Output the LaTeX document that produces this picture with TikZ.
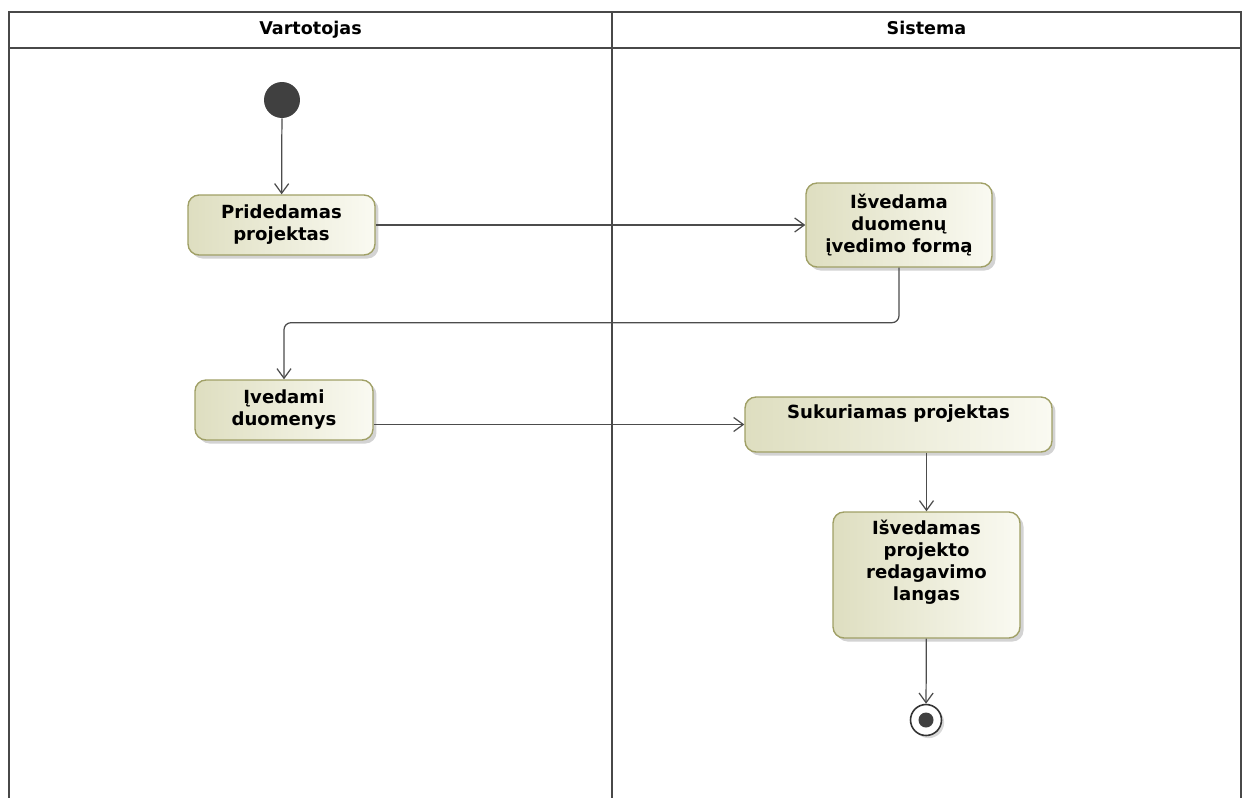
\documentclass[tikz,border=0pt]{standalone}
\usepackage{fontspec}
\setmainfont{DejaVu Sans}
\usetikzlibrary{arrows.meta, positioning, shadows}
\definecolor{actborder}{RGB}{160,160,102}
\definecolor{actleft}{RGB}{222,222,192}
\definecolor{actright}{RGB}{250,250,242}
\definecolor{lanegray}{RGB}{72,72,72}
\definecolor{dotgray}{RGB}{64,64,64}

\begin{document}
\begin{tikzpicture}[x=0.02cm, y=-0.02cm,
    lane/.style={draw=lanegray, line width=1.4pt},
    lanetitle/.style={anchor=base, font=\fontsize{10}{12}\selectfont\bfseries},
    action/.style={draw=actborder, line width=0.8pt, rounded corners=0.22cm,
        left color=actleft, right color=actright,
        drop shadow={shadow xshift=2pt, shadow yshift=-2pt, opacity=0.35},
        align=center, inner sep=0pt, font=\fontsize{10.3}{12.6}\selectfont\bfseries},
    toptext/.style={anchor=north, yshift=-0.16cm, align=center, inner sep=0pt,
        font=\fontsize{10.3}{12.6}\selectfont\bfseries},
    flow/.style={draw=black!70, line width=0.7pt, -{Straight Barb[length=5.5pt, width=8pt]}},
    initial/.style={circle, fill=dotgray, minimum size=0.72cm, inner sep=0pt},
    final/.style={circle, draw=black!80, line width=0.9pt, fill=white, minimum size=0.62cm,
        inner sep=0pt, drop shadow={shadow xshift=1.5pt, shadow yshift=-1.5pt, opacity=0.3}}]
    \useasboundingbox (0,0) rectangle (1248,798);

    \draw[lane] (9,798) -- (9,12) -- (1241,12) -- (1241,798);
    \draw[lane] (9,48) -- (1241,48);
    \draw[lane] (612,12) -- (612,798);
    \node[lanetitle] (User) at (310.5,34) {Vartotojas};
    \node[lanetitle] (Sys) at (926.5,34) {Sistema};

    \node[initial] (Start) at (282,100) {};
    \node[action, minimum width=3.74cm, minimum height=1.2cm] (Prid) at (281.5,225) {Pridedamas\\projektas};
    \node[action, minimum width=3.72cm, minimum height=1.68cm] (Isved) at (899,225) {Išvedama\\duomenų\\įvedimo formą};
    \node[action, minimum width=3.56cm, minimum height=1.2cm] (Ived) at (284,410) {Įvedami\\duomenys};
    \node[action, minimum width=6.14cm, minimum height=1.1cm,
        label={[toptext]north:Sukuriamas projektas}] (Suk) at (898.5,424.5) {};
    \node[action, minimum width=3.74cm, minimum height=2.52cm,
        label={[toptext]north:Išvedamas\\projekto\\redagavimo\\langas}] (Langas) at (926.5,575) {};
    \node[final] (End) at (926,720) {};
    \fill[dotgray] (End) circle (0.15cm);

    \draw[flow] (Start) -- (Prid);
    \draw[flow] (Prid) -- (Isved);
    \draw[flow, rounded corners=0.14cm] (Isved.south) -- ++(0,55) -| (Ived.north);
    \draw[flow] (Ived.east |- Suk.west) -- (Suk.west);
    \draw[flow] (Suk.south -| Langas.north) -- (Langas.north);
    \draw[flow] (Langas) -- (End);
\end{tikzpicture}
\end{document}
